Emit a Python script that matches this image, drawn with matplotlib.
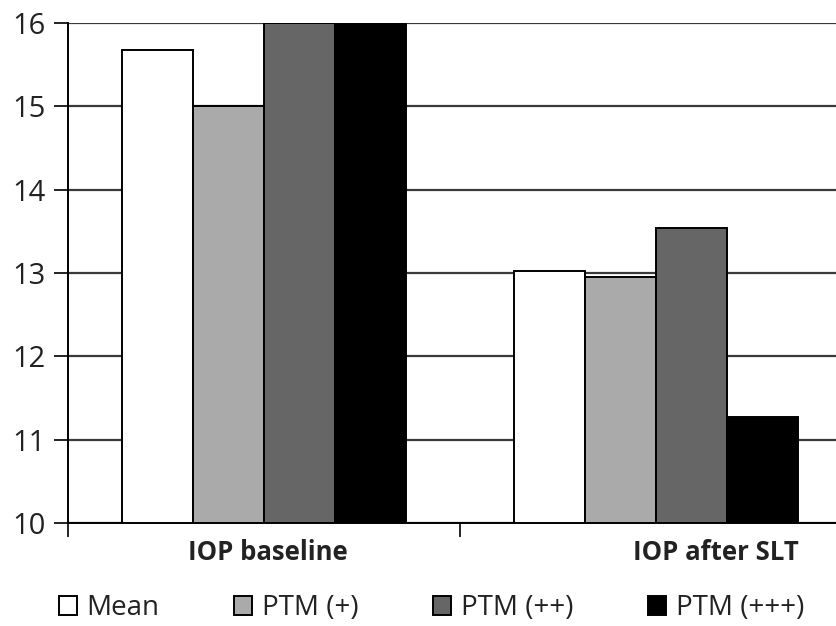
import numpy as np
import matplotlib
matplotlib.use("Agg")
import matplotlib.pyplot as plt

plt.rcParams['font.family'] = ['Open Sans', 'DejaVu Sans']

groups = ["IOP baseline", "IOP after SLT"]
series = ["Mean", "PTM (+)", "PTM (++)", "PTM (+++)"]
mean_vals = [15.68, 13.03]
ptm1_vals = [15.0, 12.95]
ptm2_vals = [16.0, 13.54]
ptm3_vals = [16.0, 11.27]
colors = ["#ffffff", "#aaaaaa", "#666666", "#000000"]

values = [mean_vals, ptm1_vals, ptm2_vals, ptm3_vals]

fig = plt.figure(figsize=(8.36, 6.26), dpi=100)
ax = fig.add_axes([68/836, 103/626, 784/836, 500/626])

x = np.arange(len(groups))
w = 0.181
for i, (vals, c, name) in enumerate(zip(values, colors, series)):
    ax.bar(x + (i - 1.5) * w, np.array(vals) - 10, w, bottom=10, color=c,
           edgecolor="black", linewidth=1.4, label=name, zorder=3)

ax.set_ylim(10, 16)
ax.set_xlim(-0.5, 1.5)
ax.set_yticks(range(10, 17))
ax.yaxis.grid(True, color="#3a3a3a", linewidth=1.6, zorder=0)
ax.set_axisbelow(True)
for s in ["top", "right"]:
    ax.spines[s].set_visible(False)
ax.spines["left"].set_linewidth(1.4)
ax.spines["bottom"].set_linewidth(1.4)
ax.tick_params(axis="y", length=10, width=1.4, labelsize=21, pad=6, colors="#222222")
ax.set_xticks([-0.5, 0.5, 1.5])
ax.set_xticklabels([])
ax.tick_params(axis="x", length=10, width=1.2)

# category labels
label_x = [0.01, 1.153]
for lx, g in zip(label_x, groups):
    ax.text(lx, -0.058, g, transform=ax.get_xaxis_transform(), ha="center", va="center",
            fontsize=18.5, fontweight="bold", color="#222222")

leg = fig.legend(loc="center left", bbox_to_anchor=(0.07, 0.028), ncol=4, frameon=False,
                 fontsize=20, handlelength=0.65, handleheight=0.65, handletextpad=0.36,
                 columnspacing=2.68, borderaxespad=0, borderpad=0)
for t in leg.get_texts():
    t.set_color("#222222")

fig.savefig("out.png", dpi=100)
